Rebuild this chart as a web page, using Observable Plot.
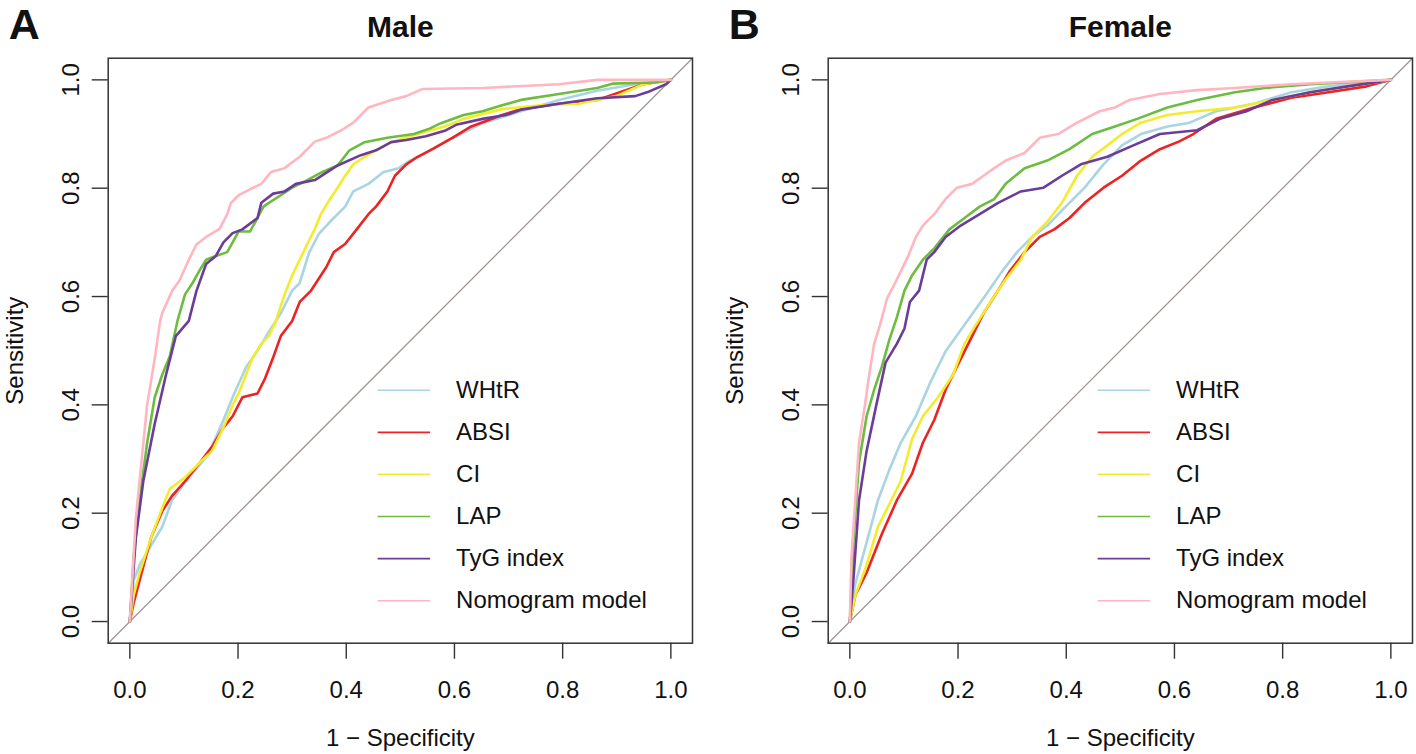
<!DOCTYPE html>
<html>
<head>
<meta charset="utf-8">
<script src="https://cdn.jsdelivr.net/npm/d3@7"></script>
<script src="https://cdn.jsdelivr.net/npm/@observablehq/plot@0.6"></script>
<style>
  html, body { margin: 0; padding: 0; background: #fff; }
  #wrap { position: relative; width: 1416px; height: 754px; background: #fff; overflow: hidden; }
  .panel { position: absolute; top: 0; }
  svg { font-family: "Liberation Sans", Arial, Helvetica, sans-serif; color: #111; }
</style>
</head>
<body>
<div id="wrap"></div>
<script>
// ---------- DATA ----------
const seriesNames = ["WHtR", "ABSI", "CI", "LAP", "TyG index", "Nomogram model"];
const seriesColors = ["#a9d5e2", "#ee2222", "#f3ec2c", "#6cbd3f", "#6b3d98", "#ffb6c1"];
const xTicks = [0, 0.2, 0.4, 0.6, 0.8, 1.0];
const yTicks = [0, 0.2, 0.4, 0.6, 0.8, 1.0];
const axisLimits = [-0.04, 1.04];
const panelTitles = ["Male", "Female"];
const panelLetters = ["A", "B"];

// Male (panel A): [1 - specificity, sensitivity]
const maleWHtR = [[0,0],[.007,.076],[.018,.104],[.039,.14],[.06,.175],[.078,.224],[.109,.266],[.145,.308],[.173,.372],[.19,.414],[.215,.47],[.236,.5],[.257,.535],[.279,.569],[.3,.611],[.314,.625],[.331,.68],[.349,.715],[.37,.738],[.398,.766],[.413,.794],[.441,.808],[.469,.83],[.497,.837],[.518,.851],[.547,.865],[.582,.885],[.624,.906],[.652,.92],[.723,.942],[.793,.963],[.864,.98],[.934,.992],[1,1]];
const maleABSI = [[0,0],[.007,.034],[.018,.076],[.039,.154],[.06,.204],[.078,.232],[.102,.259],[.13,.294],[.152,.323],[.173,.358],[.19,.379],[.208,.414],[.236,.421],[.25,.449],[.264,.485],[.279,.527],[.3,.555],[.314,.59],[.335,.611],[.363,.654],[.377,.682],[.398,.697],[.42,.725],[.441,.752],[.455,.766],[.476,.794],[.49,.823],[.511,.844],[.532,.858],[.561,.873],[.596,.893],[.631,.914],[.688,.935],[.723,.946],[.793,.956],[.864,.963],[.906,.977],[.949,.992],[1,1]];
const maleCI = [[0,0],[.007,.048],[.018,.09],[.039,.154],[.06,.21],[.074,.245],[.102,.266],[.13,.294],[.152,.315],[.173,.358],[.19,.40],[.201,.421],[.215,.456],[.226,.485],[.243,.513],[.257,.527],[.27,.555],[.286,.604],[.3,.639],[.314,.668],[.328,.697],[.342,.725],[.353,.752],[.37,.78],[.384,.801],[.398,.823],[.413,.844],[.434,.858],[.455,.87],[.483,.885],[.532,.9],[.582,.914],[.617,.928],[.688,.946],[.758,.953],[.829,.956],[.899,.97],[.949,.992],[1,1]];
const maleLAP = [[0,0],[.007,.118],[.018,.224],[.032,.33],[.046,.414],[.06,.456],[.074,.49],[.088,.555],[.102,.604],[.116,.625],[.13,.65],[.141,.668],[.159,.675],[.18,.682],[.19,.70],[.201,.72],[.222,.72],[.236,.745],[.247,.766],[.257,.773],[.279,.787],[.3,.801],[.328,.815],[.356,.83],[.384,.842],[.406,.87],[.434,.885],[.476,.893],[.525,.9],[.554,.91],[.575,.92],[.617,.935],[.652,.942],[.688,.953],[.723,.963],[.793,.974],[.864,.985],[.892,.993],[.97,.995],[1,1]];
const maleTyG = [[0,0],[.011,.154],[.025,.26],[.046,.365],[.067,.456],[.085,.527],[.109,.555],[.123,.61],[.141,.66],[.159,.675],[.173,.70],[.19,.717],[.208,.724],[.236,.745],[.243,.773],[.265,.79],[.286,.794],[.307,.808],[.342,.815],[.384,.842],[.427,.861],[.455,.87],[.483,.885],[.511,.889],[.547,.896],[.582,.906],[.603,.917],[.652,.928],[.695,.935],[.723,.945],[.793,.956],[.864,.966],[.934,.97],[.956,.977],[.991,.992],[1,1]];
const maleNomogram = [[0,0],[.011,.189],[.018,.26],[.032,.40],[.046,.485],[.056,.555],[.06,.57],[.078,.61],[.092,.63],[.109,.668],[.123,.696],[.141,.71],[.166,.725],[.18,.752],[.187,.773],[.201,.787],[.222,.798],[.243,.808],[.261,.83],[.286,.837],[.314,.858],[.342,.886],[.363,.893],[.391,.907],[.413,.921],[.441,.949],[.483,.963],[.511,.97],[.54,.983],[.653,.985],[.793,.992],[.864,1],[1,1]];

// Female (panel B)
const femaleWHtR = [[0,0],[.01,.069],[.031,.146],[.052,.224],[.073,.28],[.094,.33],[.122,.379],[.149,.442],[.177,.499],[.212,.548],[.247,.597],[.281,.646],[.309,.682],[.337,.71],[.365,.731],[.392,.759],[.434,.801],[.469,.844],[.503,.879],[.538,.9],[.587,.914],[.628,.921],[.677,.942],[.747,.956],[.816,.977],[.885,.988],[1,1]];
const femaleABSI = [[0,0],[.01,.048],[.031,.09],[.059,.161],[.087,.224],[.115,.273],[.135,.33],[.156,.372],[.177,.428],[.205,.485],[.226,.527],[.247,.569],[.274,.611],[.295,.646],[.323,.682],[.351,.71],[.378,.724],[.406,.745],[.434,.773],[.469,.801],[.503,.823],[.538,.851],[.573,.872],[.608,.886],[.635,.9],[.677,.928],[.747,.949],[.816,.967],[.885,.977],[.955,.988],[1,1]];
const femaleCI = [[0,0],[.01,.048],[.031,.104],[.052,.175],[.073,.217],[.094,.259],[.115,.337],[.135,.379],[.163,.414],[.191,.456],[.212,.513],[.233,.548],[.26,.59],[.288,.632],[.316,.668],[.337,.71],[.365,.738],[.392,.773],[.42,.823],[.448,.858],[.476,.879],[.503,.9],[.538,.921],[.587,.935],[.642,.942],[.712,.949],[.781,.963],[.851,.977],[.92,.988],[1,1]];
const femaleLAP = [[0,0],[.007,.154],[.017,.294],[.031,.379],[.045,.428],[.059,.47],[.073,.52],[.087,.562],[.101,.611],[.115,.639],[.135,.668],[.156,.689],[.184,.724],[.212,.745],[.24,.766],[.267,.78],[.288,.808],[.323,.837],[.365,.851],[.406,.872],[.448,.9],[.49,.914],[.531,.928],[.587,.949],[.642,.963],[.712,.977],[.767,.985],[.851,.992],[1,1]];
const femaleTyG = [[0,0],[.007,.083],[.017,.224],[.031,.315],[.049,.40],[.066,.478],[.087,.513],[.101,.541],[.111,.59],[.128,.611],[.142,.668],[.156,.682],[.177,.71],[.205,.731],[.24,.752],[.274,.773],[.316,.794],[.358,.801],[.392,.823],[.427,.844],[.476,.858],[.524,.879],[.573,.9],[.642,.907],[.684,.928],[.733,.942],[.781,.963],[.851,.977],[.92,.988],[1,1]];
const femaleNomogram = [[0,0],[.003,.118],[.01,.224],[.017,.33],[.028,.40],[.035,.45],[.045,.513],[.056,.548],[.069,.597],[.08,.618],[.094,.646],[.108,.675],[.122,.71],[.135,.731],[.156,.752],[.177,.78],[.198,.801],[.226,.808],[.247,.823],[.267,.837],[.288,.851],[.323,.865],[.351,.893],[.385,.9],[.42,.921],[.462,.942],[.49,.949],[.517,.963],[.573,.974],[.642,.981],[.712,.985],[.816,.992],[.885,.995],[1,1]];

const maleSeries = [maleWHtR, maleABSI, maleCI, maleLAP, maleTyG, maleNomogram];
const femaleSeries = [femaleWHtR, femaleABSI, femaleCI, femaleLAP, femaleTyG, femaleNomogram];

// ---------- DRAW ----------
const fmt = d3.format(".1f");
const H = 754, mTop = 57.7, mBottom = 111.3, mLeft = 107.7;

function panel(series, title, letter, width, mRight) {
  const rows = series.flatMap((pts, i) => pts.map(([x, y]) => ({x, y, name: seriesNames[i], order: i})));
  const legendRows = seriesNames.map((name, i) => ({name, i}));
  const legX1 = 0.458, legX2 = 0.555, legTx = 0.603, legTop = 0.427, legStep = 0.0777;
  const diag = axisLimits.map(v => ({x: v, y: v}));
  return Plot.plot({
    width, height: H,
    marginTop: mTop, marginBottom: mBottom, marginLeft: mLeft, marginRight: mRight,
    x: {domain: axisLimits, label: null},
    y: {domain: axisLimits, label: null},
    style: {fontFamily: '"Liberation Sans", Arial, sans-serif', color: "#111", background: "#fff", overflow: "visible"},
    marks: [
      Plot.line(diag, {x: "x", y: "y", stroke: "#a39494", strokeWidth: 1.3}),
      ...seriesNames.map((name, i) => Plot.line(rows.filter(r => r.order === i), {
        x: "x", y: "y", stroke: seriesColors[i], strokeWidth: 2.6, strokeLinejoin: "round"
      })),
      Plot.link(legendRows, {
        x1: () => legX1, x2: () => legX2,
        y1: d => legTop - d.i * legStep, y2: d => legTop - d.i * legStep,
        stroke: d => seriesColors[d.i], strokeWidth: 1.6
      }),
      Plot.text(legendRows, {
        x: () => legTx, y: d => legTop - d.i * legStep, text: "name",
        textAnchor: "start", lineAnchor: "middle", fontSize: 24, fill: "#111"
      }),
      Plot.frame({stroke: "#333", strokeWidth: 1.5}),
      Plot.axisX({ticks: xTicks, tickSize: 16, tickPadding: 22, tickFormat: fmt, fontSize: 24, stroke: "#333", strokeWidth: 1.4, label: null}),
      Plot.axisY({ticks: yTicks, tickSize: 16, tickFormat: () => "", stroke: "#333", strokeWidth: 1.4, label: null}),
      Plot.text(yTicks, {y: d => d, text: d => fmt(d), frameAnchor: "left", dx: -37, rotate: -90,
        textAnchor: "middle", lineAnchor: "middle", fontSize: 24, fill: "#111"}),
      Plot.text([title], {frameAnchor: "top", dy: -31, text: d => d, fontSize: 30, fontWeight: "bold",
        lineAnchor: "middle", fill: "#111"}),
      Plot.text([letter], {frameAnchor: "top-left", dx: -84, dy: -32.5, text: d => d, fontSize: 43, fontWeight: "bold",
        textAnchor: "middle", lineAnchor: "middle", fill: "#111"}),
      Plot.text(["Sensitivity"], {frameAnchor: "left", dx: -92.5, rotate: -90, text: d => d, fontSize: 24,
        textAnchor: "middle", lineAnchor: "middle", fill: "#111"}),
      Plot.text(["1 \u2212 Specificity"], {frameAnchor: "bottom", dy: 95, text: d => d, fontSize: 24,
        textAnchor: "middle", lineAnchor: "middle", fill: "#111"})
    ]
  });
}

const wrap = document.getElementById("wrap");
const left = document.createElement("div");
left.className = "panel"; left.style.left = "0px";
left.appendChild(panel(maleSeries, panelTitles[0], panelLetters[0], 720, 28));
const right = document.createElement("div");
right.className = "panel"; right.style.left = "720px";
right.appendChild(panel(femaleSeries, panelTitles[1], panelLetters[1], 696, 4));
wrap.appendChild(left);
wrap.appendChild(right);
</script>
</body>
</html>
